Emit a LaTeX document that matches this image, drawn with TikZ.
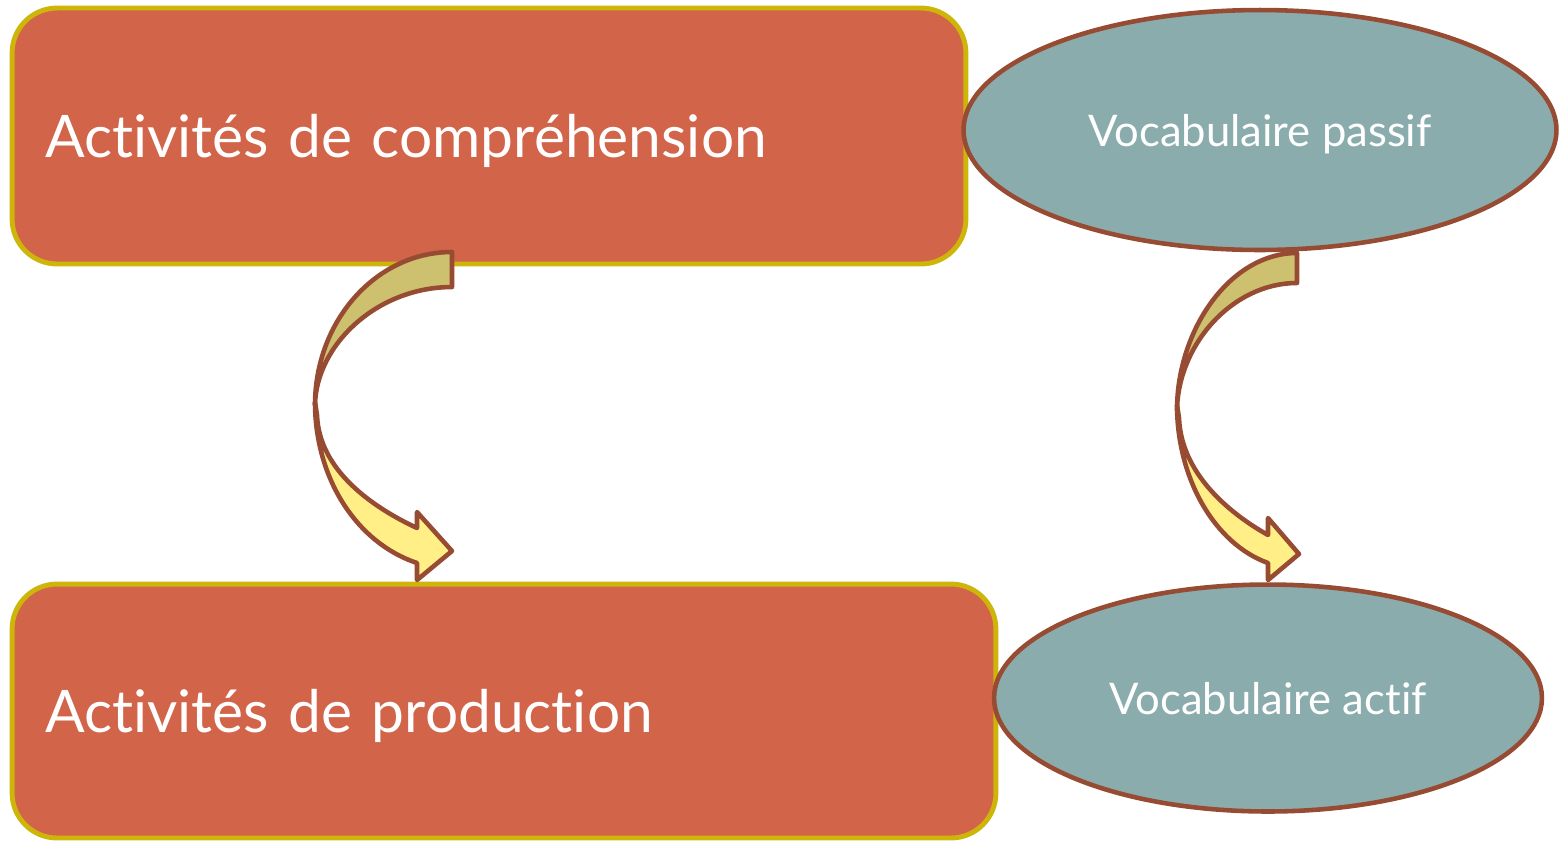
\documentclass[tikz,border=0pt]{standalone}
\usepackage{fontspec}
\setmainfont{Lato}[Ligatures=NoCommon]
\usetikzlibrary{shapes.geometric}
\definecolor{kastenrot}{RGB}{209,100,73}
\definecolor{kastenrand}{RGB}{205,181,10}
\definecolor{blaugrau}{RGB}{139,172,172}
\definecolor{braun}{RGB}{150,75,50}
\definecolor{olivgelb}{RGB}{205,192,110}
\definecolor{hellgelb}{RGB}{255,239,134}
\tikzset{
  kasten/.style={rectangle, rounded corners=0.9cm, draw=kastenrand, fill=kastenrot,
    line width=2.8pt, text=white, align=left, inner xsep=0.66cm, text depth=0pt,
    font=\fontsize{33.4}{40}\selectfont},
  wolke/.style={ellipse, draw=braun, fill=blaugrau, line width=2.6pt, text=white,
    inner sep=0pt, text depth=0pt, font=\fontsize{24.8}{30}\selectfont},
  bogen/.style={draw=braun, line width=2.6pt, line join=round}
}
\begin{document}
\begin{tikzpicture}[x=0.02cm,y=-0.02cm]
  \useasboundingbox (0,0) rectangle (1564,840);

  % 四角
  \node[kasten, text width=17.76cm, minimum height=5.12cm] (verstehen) at (489,136)
    {Activités de compréhension};
  \node[kasten, text width=18.36cm, minimum height=5.08cm] (produktion) at (504,711)
    {Activités de production};

  % 楕円
  \node[wolke, minimum width=11.86cm, minimum height=4.8cm] (passiv) at (1260,130)
    {Vocabulaire passif};
  \node[wolke, minimum width=10.96cm, minimum height=4.54cm] (aktiv) at (1268,698)
    {Vocabulaire actif};

  % 矢印（左）
  \draw[bogen, fill=olivgelb] (452,252) .. controls (376,252) and (315,321) .. (315,405)
    .. controls (316,345) and (377,287) .. (452,287) -- cycle;
  \draw[bogen, fill=hellgelb] (315,402) .. controls (315,479) and (357,543) .. (417,563)
    -- (417,580) -- (452,551) -- (417,512) -- (417,528)
    .. controls (372,507) and (319,470) .. (317,415) -- cycle;

  % 矢印（右）
  \draw[bogen, fill=olivgelb] (1297,253) .. controls (1230,253) and (1177,330) .. (1177,410)
    .. controls (1178,345) and (1232,283) .. (1297,283) -- cycle;
  \draw[bogen, fill=hellgelb] (1177,405) .. controls (1177,479) and (1215,544) .. (1268,563)
    -- (1268,580) -- (1299,554) -- (1268,518) -- (1268,535)
    .. controls (1227,512) and (1181,472) .. (1179,418) -- cycle;
\end{tikzpicture}
\end{document}
